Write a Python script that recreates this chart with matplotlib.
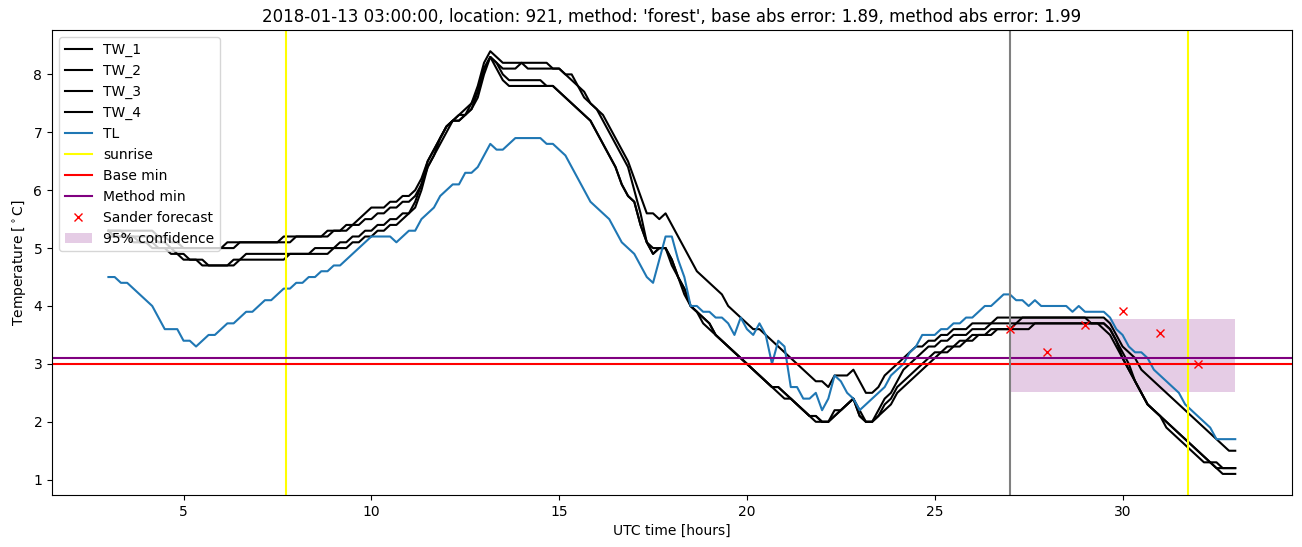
import numpy as np
import matplotlib
matplotlib.use("Agg")
import matplotlib.pyplot as plt

# 10-minute samples from 03:00 to 33:00 (hours since midnight UTC)
hours = 3 + np.arange(181) / 6

tw_1 = [
    5.3, 5.3, 5.3, 5.3, 5.3, 5.3, 5.3, 5.3, 5.2, 5.2, 5.1, 5.1,
    5.0, 5.0, 5.0, 5.0, 5.0, 5.0, 5.0, 5.1, 5.1, 5.1, 5.1, 5.1,
    5.1, 5.1, 5.1, 5.1, 5.2, 5.2, 5.2, 5.2, 5.2, 5.2, 5.2, 5.3,
    5.3, 5.3, 5.4, 5.4, 5.5, 5.6, 5.7, 5.7, 5.7, 5.8, 5.8, 5.9,
    5.9, 6.0, 6.2, 6.5, 6.7, 6.9, 7.1, 7.2, 7.3, 7.4, 7.5, 7.8,
    8.2, 8.4, 8.3, 8.2, 8.2, 8.2, 8.2, 8.2, 8.2, 8.2, 8.2, 8.1,
    8.1, 8.0, 8.0, 7.8, 7.7, 7.5, 7.4, 7.3, 7.1, 6.9, 6.7, 6.5,
    6.2, 5.9, 5.6, 5.6, 5.5, 5.6, 5.4, 5.2, 5.0, 4.8, 4.6, 4.5,
    4.4, 4.3, 4.2, 4.0, 3.9, 3.8, 3.7, 3.6, 3.6, 3.5, 3.4, 3.3,
    3.2, 3.1, 3.0, 2.9, 2.8, 2.7, 2.7, 2.6, 2.8, 2.8, 2.8, 2.9,
    2.7, 2.5, 2.5, 2.6, 2.8, 2.9, 3.0, 3.1, 3.2, 3.3, 3.3, 3.4,
    3.4, 3.5, 3.5, 3.6, 3.6, 3.6, 3.7, 3.7, 3.7, 3.7, 3.8, 3.8,
    3.8, 3.8, 3.8, 3.8, 3.8, 3.8, 3.8, 3.8, 3.8, 3.8, 3.8, 3.8,
    3.8, 3.8, 3.8, 3.8, 3.7, 3.5, 3.3, 3.2, 3.1, 2.9, 2.8, 2.7,
    2.6, 2.5, 2.4, 2.3, 2.2, 2.1, 2.0, 1.9, 1.8, 1.7, 1.6, 1.5,
    1.5,
]
tw_2 = [
    5.3, 5.3, 5.3, 5.2, 5.2, 5.2, 5.2, 5.2, 5.1, 5.1, 5.0, 5.0,
    5.0, 5.0, 5.0, 5.0, 5.0, 5.0, 5.0, 5.0, 5.0, 5.1, 5.1, 5.1,
    5.1, 5.1, 5.1, 5.1, 5.1, 5.1, 5.2, 5.2, 5.2, 5.2, 5.2, 5.2,
    5.3, 5.3, 5.3, 5.4, 5.4, 5.5, 5.5, 5.6, 5.6, 5.7, 5.7, 5.8,
    5.8, 5.9, 6.1, 6.4, 6.6, 6.9, 7.1, 7.2, 7.2, 7.3, 7.4, 7.7,
    8.1, 8.3, 8.2, 8.1, 8.1, 8.1, 8.2, 8.1, 8.1, 8.1, 8.1, 8.1,
    8.1, 8.0, 7.9, 7.8, 7.6, 7.5, 7.4, 7.2, 7.0, 6.8, 6.6, 6.4,
    6.0, 5.6, 5.1, 4.9, 5.0, 5.0, 4.8, 4.5, 4.3, 4.0, 3.9, 3.8,
    3.7, 3.5, 3.4, 3.3, 3.2, 3.1, 3.0, 2.9, 2.8, 2.7, 2.6, 2.6,
    2.5, 2.4, 2.3, 2.2, 2.1, 2.1, 2.0, 2.0, 2.2, 2.2, 2.3, 2.4,
    2.2, 2.0, 2.0, 2.2, 2.4, 2.5, 2.7, 2.9, 3.0, 3.1, 3.2, 3.3,
    3.3, 3.4, 3.4, 3.5, 3.5, 3.5, 3.6, 3.6, 3.6, 3.7, 3.7, 3.7,
    3.7, 3.7, 3.8, 3.8, 3.8, 3.8, 3.8, 3.8, 3.8, 3.8, 3.8, 3.8,
    3.8, 3.7, 3.7, 3.7, 3.6, 3.4, 3.1, 2.9, 2.7, 2.5, 2.3, 2.2,
    2.1, 2.0, 1.9, 1.8, 1.7, 1.6, 1.5, 1.4, 1.3, 1.3, 1.2, 1.2,
    1.2,
]
tw_3 = [
    5.2, 5.2, 5.2, 5.2, 5.1, 5.1, 5.1, 5.0, 5.0, 5.0, 4.9, 4.9,
    4.8, 4.8, 4.8, 4.8, 4.7, 4.7, 4.7, 4.7, 4.8, 4.8, 4.9, 4.9,
    4.9, 4.9, 4.9, 4.9, 4.9, 4.9, 4.9, 4.9, 4.9, 4.9, 4.9, 4.9,
    5.0, 5.0, 5.0, 5.1, 5.1, 5.2, 5.2, 5.3, 5.3, 5.4, 5.4, 5.5,
    5.6, 5.7, 6.0, 6.4, 6.6, 6.8, 7.0, 7.2, 7.2, 7.3, 7.4, 7.6,
    8.0, 8.3, 8.2, 8.0, 7.9, 7.9, 7.9, 7.9, 7.9, 7.9, 7.8, 7.8,
    7.7, 7.6, 7.5, 7.4, 7.3, 7.2, 7.0, 6.8, 6.6, 6.4, 6.1, 5.9,
    5.8, 5.4, 5.1, 5.0, 5.0, 5.0, 4.8, 4.5, 4.3, 4.0, 3.9, 3.8,
    3.7, 3.5, 3.4, 3.3, 3.2, 3.1, 3.0, 2.9, 2.8, 2.7, 2.6, 2.6,
    2.5, 2.4, 2.3, 2.2, 2.1, 2.1, 2.0, 2.0, 2.1, 2.2, 2.3, 2.4,
    2.1, 2.0, 2.0, 2.1, 2.3, 2.4, 2.6, 2.7, 2.8, 2.9, 3.0, 3.1,
    3.2, 3.2, 3.3, 3.3, 3.4, 3.4, 3.5, 3.5, 3.5, 3.6, 3.6, 3.6,
    3.6, 3.7, 3.7, 3.7, 3.7, 3.7, 3.7, 3.7, 3.7, 3.7, 3.7, 3.7,
    3.7, 3.7, 3.7, 3.7, 3.6, 3.4, 3.2, 3.0, 2.7, 2.5, 2.3, 2.2,
    2.1, 2.0, 1.9, 1.8, 1.7, 1.6, 1.5, 1.4, 1.3, 1.2, 1.1, 1.1,
    1.1,
]
tw_4 = [
    5.3, 5.2, 5.2, 5.2, 5.2, 5.1, 5.1, 5.1, 5.0, 5.0, 5.0, 4.9,
    4.9, 4.8, 4.8, 4.7, 4.7, 4.7, 4.7, 4.7, 4.7, 4.8, 4.8, 4.8,
    4.8, 4.8, 4.8, 4.8, 4.8, 4.9, 4.9, 4.9, 4.9, 5.0, 5.0, 5.0,
    5.0, 5.1, 5.1, 5.2, 5.2, 5.3, 5.3, 5.4, 5.4, 5.5, 5.5, 5.6,
    5.6, 5.8, 6.1, 6.5, 6.7, 6.9, 7.1, 7.2, 7.3, 7.3, 7.5, 7.7,
    8.1, 8.3, 8.1, 7.9, 7.8, 7.8, 7.8, 7.8, 7.8, 7.8, 7.8, 7.8,
    7.7, 7.6, 7.5, 7.4, 7.3, 7.2, 7.0, 6.8, 6.6, 6.4, 6.1, 5.9,
    5.8, 5.4, 5.1, 4.9, 5.0, 5.0, 4.7, 4.5, 4.2, 4.0, 3.9, 3.7,
    3.6, 3.5, 3.4, 3.3, 3.2, 3.1, 3.0, 2.9, 2.8, 2.7, 2.6, 2.5,
    2.4, 2.4, 2.3, 2.2, 2.1, 2.0, 2.0, 2.0, 2.1, 2.2, 2.3, 2.4,
    2.1, 2.0, 2.0, 2.1, 2.2, 2.3, 2.5, 2.6, 2.7, 2.8, 2.9, 3.0,
    3.1, 3.2, 3.2, 3.3, 3.3, 3.4, 3.4, 3.5, 3.5, 3.5, 3.6, 3.6,
    3.6, 3.6, 3.6, 3.6, 3.7, 3.7, 3.7, 3.7, 3.7, 3.7, 3.7, 3.7,
    3.7, 3.7, 3.7, 3.6, 3.5, 3.3, 3.1, 2.9, 2.7, 2.5, 2.3, 2.2,
    2.1, 1.9, 1.8, 1.7, 1.6, 1.5, 1.4, 1.3, 1.3, 1.2, 1.2, 1.2,
    1.2,
]
tl = [
    4.5, 4.5, 4.4, 4.4, 4.3, 4.2, 4.1, 4.0, 3.8, 3.6, 3.6, 3.6,
    3.4, 3.4, 3.3, 3.4, 3.5, 3.5, 3.6, 3.7, 3.7, 3.8, 3.9, 3.9,
    4.0, 4.1, 4.1, 4.2, 4.3, 4.3, 4.4, 4.4, 4.5, 4.5, 4.6, 4.6,
    4.7, 4.7, 4.8, 4.9, 5.0, 5.1, 5.2, 5.2, 5.2, 5.2, 5.1, 5.2,
    5.3, 5.3, 5.5, 5.6, 5.7, 5.9, 6.0, 6.1, 6.1, 6.3, 6.3, 6.4,
    6.6, 6.8, 6.7, 6.7, 6.8, 6.9, 6.9, 6.9, 6.9, 6.9, 6.8, 6.8,
    6.7, 6.6, 6.4, 6.2, 6.0, 5.8, 5.7, 5.6, 5.5, 5.3, 5.1, 5.0,
    4.9, 4.7, 4.5, 4.4, 4.8, 5.2, 5.2, 4.8, 4.5, 4.0, 4.0, 3.9,
    3.9, 3.8, 3.8, 3.7, 3.5, 3.8, 3.6, 3.5, 3.7, 3.5, 3.0, 3.4,
    3.3, 2.6, 2.6, 2.4, 2.4, 2.5, 2.2, 2.4, 2.8, 2.7, 2.5, 2.4,
    2.2, 2.3, 2.4, 2.5, 2.6, 2.8, 2.9, 3.0, 3.2, 3.3, 3.5, 3.5,
    3.5, 3.6, 3.6, 3.7, 3.7, 3.8, 3.8, 3.9, 4.0, 4.0, 4.1, 4.2,
    4.2, 4.1, 4.1, 4.0, 4.1, 4.0, 4.0, 4.0, 4.0, 4.0, 3.9, 4.0,
    3.9, 3.9, 3.9, 3.9, 3.8, 3.6, 3.5, 3.3, 3.2, 3.2, 3.1, 2.9,
    2.8, 2.7, 2.6, 2.5, 2.3, 2.2, 2.1, 2.0, 1.9, 1.7, 1.7, 1.7,
    1.7,
]

sunrise = [7.73, 31.73]
base_min = 3.0
method_min = 3.1
forecast_start = 27

sander_hours = [27, 28, 29, 30, 31, 32]
sander_temp = [3.6, 3.2, 3.67, 3.92, 3.53, 3.0]

conf_hours = [27, 33]
conf_low = 2.52
conf_high = 3.78

fig, ax = plt.subplots(figsize=(13.02, 5.47), dpi=100)

for name, series in zip(["TW_1", "TW_2", "TW_3", "TW_4"], [tw_1, tw_2, tw_3, tw_4]):
    ax.plot(hours, series, color="black", label=name)
ax.plot(hours, tl, color="tab:blue", label="TL")

ax.axvline(sunrise[0], color="yellow", label="sunrise")
ax.axvline(sunrise[1], color="yellow")
ax.axhline(base_min, color="red", label="Base min")
ax.axhline(method_min, color="purple", label="Method min")
ax.axvline(forecast_start, color="grey")

ax.plot(sander_hours, sander_temp, "x", color="red", label="Sander forecast")
ax.fill_between(conf_hours, conf_low, conf_high, color="purple", alpha=0.2,
                linewidth=0, label="95% confidence")

ax.set_title("2018-01-13 03:00:00, location: 921, method: 'forest', "
             "base abs error: 1.89, method abs error: 1.99")
ax.set_xlabel("UTC time [hours]")
ax.set_ylabel(r"Temperature [$^\circ$C]")
ax.legend(loc="upper left")

fig.subplots_adjust(left=0.040, right=0.992, top=0.945, bottom=0.095)
fig.savefig("out.png")
